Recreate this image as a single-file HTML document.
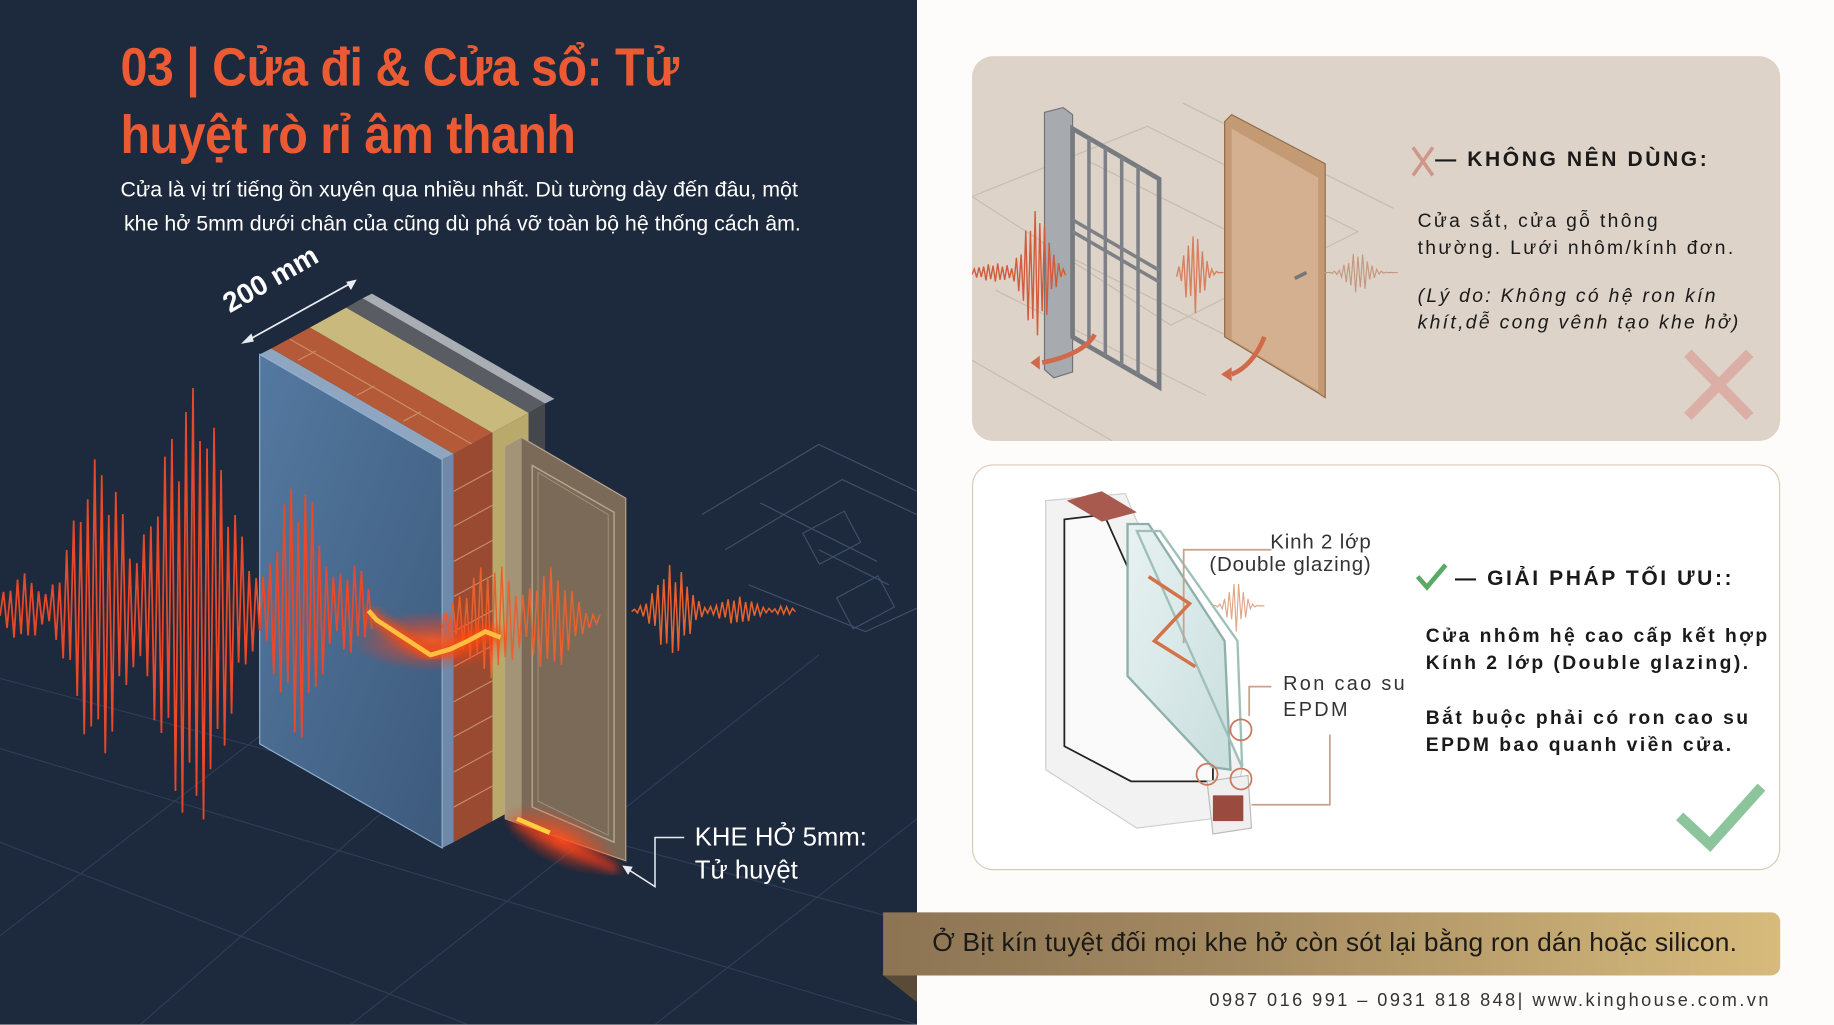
<!DOCTYPE html>
<html><head><meta charset="utf-8">
<style>
html,body{margin:0;padding:0;}
body{width:1834px;height:1024px;overflow:hidden;background:#fdfcfa;}
#w{position:absolute;left:0;top:0;width:1568px;height:876px;transform:scale(1.16964);transform-origin:0 0;font-family:"Liberation Sans","DejaVu Sans",sans-serif;}
.abs{position:absolute;white-space:nowrap;}
#left{position:absolute;left:0;top:0;width:784px;height:876px;background:#1d293c;overflow:hidden;}
.title{color:#ec5a34;font-weight:bold;font-size:46px;transform:scaleX(0.9);transform-origin:0 0;letter-spacing:-0.5px;}
.sub{color:#fff;font-size:18.3px;}
.card1{position:absolute;left:831px;top:48px;width:691px;height:329px;border-radius:18px;background:#ddd3c8;overflow:hidden;}
.card2{position:absolute;left:831px;top:397px;width:689px;height:345px;border-radius:18px;background:#fff;border:1.5px solid #d9cbb6;overflow:hidden;}
.h{font-weight:bold;font-size:18px;letter-spacing:2.2px;color:#1a1a1a;}
.b{font-size:16.5px;letter-spacing:2px;color:#1a1a1a;line-height:23px;}
</style></head><body>
<div id="w">
<div id="left">
<svg width="784" height="876" style="position:absolute;left:0;top:0">
 <defs>
  <linearGradient id="blue" x1="0" y1="0" x2="1" y2="1"><stop offset="0" stop-color="#5479a0"/><stop offset="1" stop-color="#3d5a7c"/></linearGradient>
  <radialGradient id="glow" cx="0.5" cy="0.5" r="0.5"><stop offset="0" stop-color="#ff5a20" stop-opacity="0.9"/><stop offset="1" stop-color="#ff3010" stop-opacity="0"/></radialGradient>
  <filter id="bl"><feGaussianBlur stdDeviation="4"/></filter>
 </defs>
 <g stroke="#3a4a66" stroke-width="1" opacity="0.6">
  <line x1="0" y1="640" x2="784" y2="876"/><line x1="0" y1="720" x2="400" y2="876"/>
  <line x1="0" y1="580" x2="784" y2="790"/><line x1="120" y1="876" x2="480" y2="560"/>
  <line x1="300" y1="876" x2="700" y2="560"/><line x1="0" y1="800" x2="260" y2="600"/>
  <line x1="560" y1="876" x2="784" y2="700"/>
 </g>
 <g stroke="#5a6f92" stroke-width="1" fill="none" opacity="0.55">
  <path d="M600 440 L700 380 L784 420 M620 470 L720 410 L784 440 M640 500 L740 540 L784 520 M700 470 L760 500 M650 430 L750 480"/>
  <rect x="690" y="450" width="40" height="30" transform="rotate(-28 700 460)"/>
  <rect x="720" y="500" width="40" height="30" transform="rotate(-28 740 515)"/>
 </g>
 <polygon points="222,303 232,298 388,388 378,393" fill="#8fa6c0"/>
 <polygon points="232,298 265,280 421,370 388,388" fill="#b45a38"/>
 <polygon points="265,280 296,263 452,353 421,370" fill="#c9b97c"/>
 <polygon points="296,263 310,255 466,345 452,353" fill="#595c62"/>
 <polygon points="310,255 318,251 474,341 466,345" fill="#a9adb4"/>
 <g stroke="#d8b08c" stroke-width="1" opacity="0.6"><line x1="248" y1="290" x2="404" y2="380"/><line x1="270" y1="300" x2="255" y2="308"/><line x1="320" y1="330" x2="305" y2="338"/><line x1="360" y1="352" x2="345" y2="360"/></g>
 <polygon points="378,393 388,388 388,720 378,725" fill="#6f8aa8"/>
 <polygon points="388,388 421,370 421,702 388,720" fill="#9a4a30"/>
 <g stroke="#d9a58a" stroke-width="1" opacity="0.7">
  <line x1="388" y1="420" x2="421" y2="402"/><line x1="388" y1="450" x2="421" y2="432"/><line x1="388" y1="480" x2="421" y2="462"/><line x1="388" y1="510" x2="421" y2="492"/><line x1="388" y1="540" x2="421" y2="522"/><line x1="388" y1="570" x2="421" y2="552"/><line x1="388" y1="600" x2="421" y2="582"/><line x1="388" y1="630" x2="421" y2="612"/><line x1="388" y1="660" x2="421" y2="642"/><line x1="388" y1="690" x2="421" y2="672"/>
 </g>
 <polygon points="421,370 452,353 452,685 421,702" fill="#b9aa6c"/>
 <polygon points="452,353 466,345 466,677 452,685" fill="#44474c"/>
 <polygon points="222,303 378,393 378,725 222,636" fill="url(#blue)" stroke="#8fb0d0" stroke-width="1"/>
 <polygon points="432,382 446,374 535,426 535,736 446,705 432,700" fill="#7b6a58" stroke="#b7a68c" stroke-width="1"/>
 <polygon points="432,382 446,374 446,705 432,700" fill="#a39478"/>
 <polygon points="455,398 525,438 525,720 455,690" fill="none" stroke="#b8a78c" stroke-width="1.2"/>
 <polygon points="460,404 520,440 520,714 460,685" fill="none" stroke="#a0927a" stroke-width="0.8"/>
 <ellipse cx="480" cy="718" rx="55" ry="22" fill="url(#glow)" transform="rotate(25 480 718)"/>
 <line x1="440" y1="702" x2="528" y2="744" stroke="#ff3a1a" stroke-width="5" filter="url(#bl)"/>
 <line x1="442" y1="700" x2="470" y2="712" stroke="#ffcf40" stroke-width="4"/>
 <path id="wv1" fill="none" stroke="#e8492a" stroke-width="1.5"/>
 <path id="wv2" fill="none" stroke="#e8622e" stroke-width="1.3"/>
 <path id="wv3" fill="none" stroke="#e8622e" stroke-width="1.3"/>
 <ellipse cx="370" cy="548" rx="70" ry="26" fill="url(#glow)"/>
 <path d="M315 522 L322 530 L345 545 L368 560 L385 555 L400 548 L415 540 L428 545" fill="none" stroke="#ff4a10" stroke-width="9" filter="url(#bl)"/>
 <path d="M315 522 L322 530 L345 545 L368 560 L385 555 L400 548 L415 540 L428 545" fill="none" stroke="#ffc040" stroke-width="4"/>
 <line x1="210" y1="292" x2="302" y2="241" stroke="#e8ecf2" stroke-width="1.5"/>
 <polygon points="206,294 215,285 217,292" fill="#e8ecf2"/>
 <polygon points="305,239 296,241 300,248" fill="#e8ecf2"/>
 <polyline points="535,742 560,758 560,716 585,716" fill="none" stroke="#e8ecf2" stroke-width="1.3"/>
 <polygon points="532,740 541,741 537,748" fill="#e8ecf2"/>
</svg>
<div class="abs title" style="left:103px;top:30px;">03 | Cửa đi &amp; Cửa sổ: Tử</div>
<div class="abs title" style="left:103px;top:88px;">huyệt rò rỉ âm thanh</div>
<div class="abs sub" style="left:103px;top:151px;">Cửa là vị trí tiếng ồn xuyên qua nhiều nhất. Dù tường dày đến đâu, một</div>
<div class="abs sub" style="left:106px;top:180px;">khe hở 5mm dưới chân của cũng dù phá vỡ toàn bộ hệ thống cách âm.</div>
<div class="abs" style="left:200px;top:246px;color:#fff;font-size:24px;font-weight:bold;transform:rotate(-30deg);transform-origin:0 100%;">200 mm</div>
<div class="abs" style="left:594px;top:702px;color:#fff;font-size:22px;line-height:28px;">KHE HỞ 5mm:<br>Tử huyệt</div>
</div>

<div class="card1">
<svg width="691" height="329" style="position:absolute;left:0;top:0">
 <g stroke="#c4b6a6" stroke-width="1" fill="none" opacity="0.8">
  <path d="M0 120 L150 60 L330 150 L170 230 Z M20 200 L200 290 M60 160 L240 250 M0 260 L120 329 M100 90 L280 180 M180 40 L360 130"/>
 </g>
 <polygon points="62,48 78,44 86,50 86,270 70,275 62,268" fill="#a7aaae" stroke="#6f7378"/>
 <polygon points="86,62 160,105 160,283 86,240" fill="none" stroke="#777b80" stroke-width="4"/>
 <g stroke="#7d8186" stroke-width="3"><line x1="100" y1="70" x2="100" y2="248"/><line x1="114" y1="78" x2="114" y2="256"/><line x1="128" y1="86" x2="128" y2="264"/><line x1="142" y1="94" x2="142" y2="272"/><line x1="86" y1="140" x2="160" y2="183"/><line x1="86" y1="150" x2="160" y2="193"/></g>
 <polygon points="216,56 222,50 302,92 302,292 296,288 216,240" fill="#c39a74" stroke="#8f6c4d"/>
 <polygon points="222,62 296,104 296,286 222,242" fill="#d4b090"/>
 <line x1="276" y1="190" x2="286" y2="185" stroke="#777" stroke-width="3"/>
 <path id="cw1" fill="none" stroke="#d35b3c" stroke-width="1.2"/>
 <path id="cw2" fill="none" stroke="#d8805e" stroke-width="1.2"/>
 <path id="cw3" fill="none" stroke="#c49880" stroke-width="1"/>
 <path d="M105 238 Q95 255 60 262" fill="none" stroke="#d06a4a" stroke-width="4"/><polygon points="58,256 58,268 50,262" fill="#d06a4a"/>
 <path d="M250 240 Q240 265 222 272" fill="none" stroke="#d06a4a" stroke-width="4"/><polygon points="222,266 222,278 213,272" fill="#d06a4a"/>
 <g stroke="#cf968a" stroke-width="3"><line x1="377" y1="78" x2="394" y2="102"/><line x1="394" y1="78" x2="377" y2="102"/></g>
 <g stroke="#dba9a0" stroke-width="9" opacity="0.85"><line x1="612" y1="254" x2="665" y2="308"/><line x1="665" y1="254" x2="612" y2="308"/></g>
</svg>
<div class="abs h" style="left:396px;top:78px;">— KHÔNG NÊN DÙNG:</div>
<div class="abs b" style="left:381px;top:130px;">Cửa sắt, cửa gỗ thông<br>thường. Lưới nhôm/kính đơn.</div>
<div class="abs b" style="left:381px;top:194px;font-style:italic;">(Lý do: Không có hệ ron kín<br>khít,dễ cong vênh tạo khe hở)</div>
</div>

<div class="card2">
<svg width="689" height="345" style="position:absolute;left:0;top:0">
 <defs><linearGradient id="gl" x1="0" y1="0" x2="1" y2="1"><stop offset="0" stop-color="#e8f2f2"/><stop offset="1" stop-color="#c9dede"/></linearGradient></defs>
 <polygon points="62,30 130,24 230,260 220,300 140,310 62,260" fill="#f2f2f2" stroke="#cfcfcf"/>
 <polygon points="78,46 112,42 205,250 205,270 135,270 78,240" fill="#fafafa" stroke="#222" stroke-width="1.5"/>
 <polygon points="132,50 150,50 215,150 220,260 205,258 132,180" fill="url(#gl)" stroke="#8fb0a8" stroke-width="2"/>
 <polygon points="140,56 160,56 226,150 230,258" fill="none" stroke="#9ec0b8" stroke-width="2"/>
 <polygon points="80,30 110,22 140,40 110,48" fill="#a85a4e"/>
 <polygon points="200,270 235,265 238,310 205,315" fill="#efefef" stroke="#bbb"/>
 <rect x="205" y="282" width="26" height="22" fill="#9a4a3e"/>
 <g fill="none" stroke="#c77a5e" stroke-width="1.5"><circle cx="229" cy="226" r="9"/><circle cx="200" cy="264" r="9"/><circle cx="229" cy="268" r="9"/></g>
 <polyline points="180,152 180,72 255,72" fill="none" stroke="#c9a08c" stroke-width="1.5"/>
 <polyline points="236,214 236,189 255,189" fill="none" stroke="#c9a08c" stroke-width="1.5"/>
 <polyline points="238,290 305,290 305,230" fill="none" stroke="#c9a08c" stroke-width="1.5"/>
 <path d="M150 95 L185 118 L155 150 L190 172" fill="none" stroke="#d4734a" stroke-width="3"/>
 <path id="cw4" fill="none" stroke="#e0a888" stroke-width="1"/>
 <polyline points="380,95 388,104 404,85" fill="none" stroke="#5aaa66" stroke-width="4"/>
 <polyline points="604,300 630,324 674,275" fill="none" stroke="#8cc59c" stroke-width="9"/>
</svg>
<div class="abs" style="left:202px;top:56px;font-size:17.5px;color:#333;line-height:19px;text-align:right;letter-spacing:0.7px;">&nbsp;&nbsp;&nbsp;&nbsp;&nbsp;Kinh 2 lớp<br>(Double glazing)</div>
<div class="abs" style="left:265px;top:176px;font-size:17px;color:#333;line-height:22px;letter-spacing:2px;">Ron cao su<br>EPDM</div>
<div class="abs h" style="left:412px;top:86px;">— GIẢI PHÁP TỐI ƯU::</div>
<div class="abs b" style="left:387px;top:135px;font-weight:bold;letter-spacing:2.1px;">Cửa nhôm hệ cao cấp kết hợp<br>Kính 2 lớp (Double glazing).</div>
<div class="abs b" style="left:387px;top:205px;font-weight:bold;letter-spacing:2.1px;">Bắt buộc phải có ron cao su<br>EPDM bao quanh viền cửa.</div>
</div>

<svg width="784" height="80" style="position:absolute;left:754px;top:779px">
 <polygon points="0,54 30,54 30,78" fill="#5a4a38"/>
</svg>
<div style="position:absolute;left:755px;top:780px;width:767px;height:54px;border-radius:0 8px 8px 0;background:linear-gradient(90deg,#8c7454,#a58b62 40%,#d7bb7c);"></div>
<div class="abs" style="left:797px;top:793px;font-size:22.5px;letter-spacing:0.2px;color:#1c1a16;">Ở Bịt kín tuyệt đối mọi khe hở còn sót lại bằng ron dán hoặc silicon.</div>
<div class="abs" style="left:1034px;top:847px;font-size:15.5px;color:#333;letter-spacing:2.1px;">0987 016 991 – 0931 818 848| www.kinghouse.com.vn</div>
</div>
<script>
function burst(id,x0,x1,y,peaks,step){
 var d="",first=true,s=1;
 for(var x=x0;x<=x1;x+=step){
  var a=0;peaks.forEach(function(p){var t=(x-p[0])/p[2];a=Math.max(a,p[1]*Math.exp(-t*t));});
  a*= (0.6+0.4*Math.abs(Math.sin(x*0.37)));
  d+=(first?"M":"L")+x.toFixed(1)+" "+(y+s*a).toFixed(1)+" ";first=false;s=-s;
 }
 document.getElementById(id).setAttribute("d",d);
}
burst("wv1",0,320,520,[[20,30,20],[85,130,30],[165,190,40],[255,115,25],[300,40,20]],3);
burst("wv2",378,515,530,[[420,50,30],[470,45,25],[510,5,10]],3);
burst("wv3",540,680,522,[[575,40,18],[630,12,20],[670,4,10]],2.5);
burst("cw1",0,80,185,[[55,55,14],[20,8,20]],2);
burst("cw2",175,215,185,[[190,35,10]],2);
burst("cw3",300,365,185,[[330,18,12]],2);
burst("cw4",205,250,120,[[225,22,9]],2);
</script>
</body></html>
